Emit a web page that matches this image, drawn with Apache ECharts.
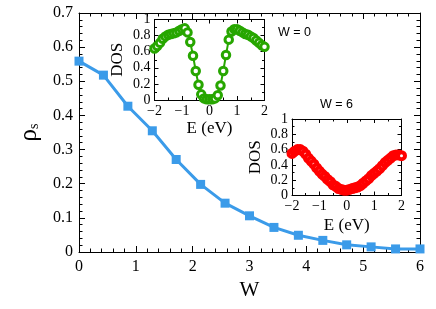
<!DOCTYPE html>
<html>
<head>
<meta charset="utf-8">
<script src="https://cdn.jsdelivr.net/npm/echarts@6/dist/echarts.min.js"></script>
<style>
html,body{margin:0;padding:0;background:#fff;}
#c{width:436px;height:309px;}
</style>
</head>
<body>
<div id="c"></div>
<script>
// Main panel: superfluid stiffness vs disorder W
const W = [0, 0.43, 0.86, 1.29, 1.71, 2.14, 2.57, 3.0, 3.43, 3.86, 4.29, 4.71, 5.14, 5.57, 6.0];
const rhoS = [0.559, 0.518, 0.427, 0.355, 0.271, 0.198, 0.143, 0.106, 0.072, 0.049, 0.034, 0.021, 0.015, 0.009, 0.009];

// Inset energies (eV)
const energy = [-2.0, -1.9, -1.8, -1.7, -1.6, -1.5, -1.4, -1.3, -1.2, -1.1, -1.0,
  -0.9, -0.8, -0.7, -0.6, -0.5, -0.4, -0.3, -0.2, -0.1, 0.0,
  0.1, 0.2, 0.3, 0.4, 0.5, 0.6, 0.7, 0.8, 0.9, 1.0,
  1.1, 1.2, 1.3, 1.4, 1.5, 1.6, 1.7, 1.8, 1.9, 2.0];
// DOS at W = 0
const dosW0 = [0.64, 0.67, 0.71, 0.76, 0.79, 0.81, 0.82, 0.83, 0.84, 0.86, 0.88,
  0.89, 0.84, 0.72, 0.55, 0.36, 0.19, 0.07, 0.02, 0.01, 0.01,
  0.01, 0.02, 0.06, 0.18, 0.36, 0.56, 0.75, 0.85, 0.88, 0.88,
  0.86, 0.84, 0.82, 0.81, 0.79, 0.77, 0.74, 0.71, 0.68, 0.66];
// DOS at W = 6
const dosW6 = [0.55, 0.58, 0.60, 0.60, 0.58, 0.54, 0.49, 0.45, 0.41, 0.36, 0.32,
  0.28, 0.25, 0.21, 0.18, 0.14, 0.12, 0.09, 0.08, 0.07, 0.07,
  0.08, 0.09, 0.10, 0.11, 0.13, 0.16, 0.19, 0.22, 0.26, 0.29,
  0.32, 0.35, 0.39, 0.43, 0.46, 0.49, 0.52, 0.53, 0.53, 0.52];

// Tick settings
const mainX = {min: 0, max: 6, interval: 1};
const mainY = {min: 0, max: 0.7, interval: 0.1};
const insetX = {min: -2, max: 2, interval: 1};
const insetY = {min: 0, max: 1, interval: 0.2};
const labels = {w0: 'W = 0', w6: 'W = 6', xMain: 'W', xInset: 'E (eV)', yInset: 'DOS'};

const serif = 'Liberation Serif';
const blk = '#000';
const fmtNum = v => String(+Number(v).toFixed(2)).replace('-', '\u2212');

function xAx(grid, rng, pos, showLabel, o) {
  return Object.assign({
    gridIndex: grid, type: 'value', min: rng.min, max: rng.max, interval: rng.interval,
    position: pos,
    axisLine: {show: true, onZero: false, lineStyle: {color: blk, width: 1}},
    axisTick: {show: true, inside: true, length: o.tick, lineStyle: {color: blk, width: 1}},
    minorTick: {show: true, splitNumber: o.minor, length: o.mtick, lineStyle: {color: blk, width: 1}},
    splitLine: {show: false},
    axisLabel: {show: showLabel, margin: o.margin, color: blk, fontFamily: serif, fontSize: o.fs, formatter: fmtNum}
  }, o.extra || {});
}

const chart = echarts.init(document.getElementById('c'), null, {renderer: 'canvas'});
const option = {
  animation: false,
  backgroundColor: '#fff',
  grid: [
    {left: 79, top: 13, width: 341, height: 239},
    {left: 154.5, top: 19.5, width: 110, height: 80.5},
    {left: 292, top: 119, width: 109.5, height: 76.5}
  ],
  xAxis: [
    xAx(0, mainX, 'bottom', true, {tick: 6, minor: 5, mtick: 3.5, margin: 7, fs: 16,
      extra: {name: labels.xMain, nameLocation: 'middle', nameGap: 23,
        nameTextStyle: {fontFamily: serif, fontSize: 21, color: blk}}}),
    xAx(0, mainX, 'top', false, {tick: 6, minor: 5, mtick: 3.5, margin: 7, fs: 16}),
    xAx(1, insetX, 'bottom', true, {tick: 4, minor: 2, mtick: 2.5, margin: 4, fs: 14,
      extra: {name: labels.xInset, nameLocation: 'middle', nameGap: 20,
        nameTextStyle: {fontFamily: serif, fontSize: 17, color: blk}}}),
    xAx(1, insetX, 'top', false, {tick: 4, minor: 2, mtick: 2.5, margin: 4, fs: 14}),
    xAx(2, insetX, 'bottom', true, {tick: 4, minor: 2, mtick: 2.5, margin: 4, fs: 14,
      extra: {name: labels.xInset, nameLocation: 'middle', nameGap: 22,
        nameTextStyle: {fontFamily: serif, fontSize: 17, color: blk}}}),
    xAx(2, insetX, 'top', false, {tick: 4, minor: 2, mtick: 2.5, margin: 4, fs: 14})
  ],
  yAxis: [
    xAx(0, mainY, 'left', true, {tick: 6, minor: 5, mtick: 3.5, margin: 6, fs: 16,
      extra: {name: '{a|ρ}{b|s}', nameLocation: 'middle', nameGap: 36,
        nameTextStyle: {color: blk, rich: {
          a: {fontFamily: serif, fontSize: 25, color: blk},
          b: {fontFamily: serif, fontSize: 14, color: blk, padding: [10, 0, 0, 0]}
        }}}}),
    xAx(0, mainY, 'right', false, {tick: 6, minor: 5, mtick: 3.5, margin: 6, fs: 16}),
    xAx(1, insetY, 'left', true, {tick: 4, minor: 2, mtick: 2.5, margin: 4, fs: 14,
      extra: {name: labels.yInset, nameLocation: 'middle', nameGap: 28,
        nameTextStyle: {fontFamily: serif, fontSize: 17, color: blk}}}),
    xAx(1, insetY, 'right', false, {tick: 4, minor: 2, mtick: 2.5, margin: 4, fs: 14}),
    xAx(2, insetY, 'left', true, {tick: 4, minor: 2, mtick: 2.5, margin: 4, fs: 14,
      extra: {name: labels.yInset, nameLocation: 'middle', nameGap: 28,
        nameTextStyle: {fontFamily: serif, fontSize: 17, color: blk}}}),
    xAx(2, insetY, 'right', false, {tick: 4, minor: 2, mtick: 2.5, margin: 4, fs: 14})
  ],
  series: [
    {
      type: 'line', xAxisIndex: 0, yAxisIndex: 0,
      data: W.map((w, i) => [w, rhoS[i]]),
      symbol: 'rect', symbolSize: 9,
      lineStyle: {color: '#3b9be9', width: 3},
      itemStyle: {color: '#3b9be9'}
    },
    {
      type: 'line', xAxisIndex: 2, yAxisIndex: 2,
      data: energy.map((e, i) => [e, dosW0[i]]),
      symbol: 'circle', symbolSize: 7.5,
      lineStyle: {color: '#27a600', width: 2},
      itemStyle: {color: '#fff', borderColor: '#27a600', borderWidth: 3}
    },
    {
      type: 'line', xAxisIndex: 4, yAxisIndex: 4,
      data: energy.map((e, i) => [e, dosW6[i]]),
      symbol: 'circle', symbolSize: 7,
      lineStyle: {color: '#ff0000', width: 2},
      itemStyle: {color: '#fff', borderColor: '#ff0000', borderWidth: 4}
    }
  ],
  graphic: [
    {type: 'text', left: 278, top: 26, style: {text: labels.w0, font: '12.5px "Liberation Sans"', fill: blk}},
    {type: 'text', left: 320, top: 98, style: {text: labels.w6, font: '12.5px "Liberation Sans"', fill: blk}}
  ]
};
chart.setOption(option);
</script>
</body>
</html>
